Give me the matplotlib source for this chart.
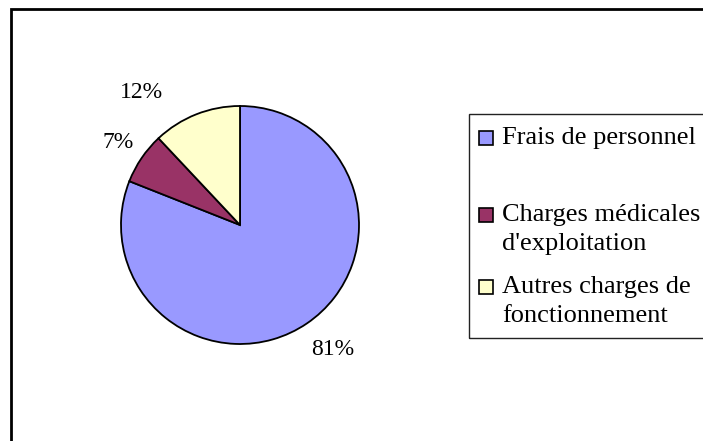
import matplotlib
matplotlib.use('Agg')
import matplotlib.pyplot as plt
from matplotlib.patches import Rectangle

plt.rcParams['font.family'] = ['Liberation Serif', 'DejaVu Serif']

# data
categories = ['Frais de personnel', "Charges médicales\nd'exploitation",
              'Autres charges de\nfonctionnement']
shares = [81, 7, 12]
colors = ['#9999FF', '#993366', '#FFFFCC']

W, H = 703, 441
fig = plt.figure(figsize=(W / 100, H / 100), dpi=100, facecolor='white')

# chart area border (runs off the right and bottom edges)
fig.patches.append(Rectangle((11 / W, -0.1), 1.2, (H - 9) / H + 0.1,
                             transform=fig.transFigure, fill=False,
                             edgecolor='black', linewidth=2.0))

# pie: centre (240, 225) px, radius 119 px
cx, cy, r = 240, 225, 119
ax = fig.add_axes([(cx - r) / W, (H - cy - r) / H, 2 * r / W, 2 * r / H])
wedges, texts, autotexts = ax.pie(
    shares, colors=colors, startangle=90, counterclock=False,
    autopct='%1.0f%%', pctdistance=1.3,
    wedgeprops=dict(edgecolor='black', linewidth=1.3),
    textprops=dict(fontsize=17, color='black'))
ax.set_xlim(-1, 1)
ax.set_ylim(-1, 1)
ax.set_aspect('auto')
ax.axis('off')
# Excel's label placement is not purely radial; nudge to match
autotexts[0].set_position((0.78, -1.05))
autotexts[1].set_position((-1.02, 0.69))
autotexts[2].set_position((-0.83, 1.11))

# legend (frame runs off the right edge)
lx, ltop, lbot = 469, 114, 338
fig.patches.append(Rectangle((lx / W, (H - lbot) / H), 0.5, (lbot - ltop) / H,
                             transform=fig.transFigure, fill=False,
                             edgecolor='#222222', linewidth=1.0, zorder=5))
entry_y = [138, 215, 287]
line_gap = 29
for lab, col, ey in zip(categories, colors, entry_y):
    fig.patches.append(Rectangle((479 / W, (H - ey - 7) / H), 14 / W, 14 / H,
                                 transform=fig.transFigure, facecolor=col,
                                 edgecolor='black', linewidth=1.2, zorder=6))
    for k, line in enumerate(lab.split('\n')):
        fig.text(502 / W, (H - ey - k * line_gap) / H, line,
                 fontsize=19, va='center', ha='left')

fig.savefig('out.png', dpi=100, facecolor='white')
